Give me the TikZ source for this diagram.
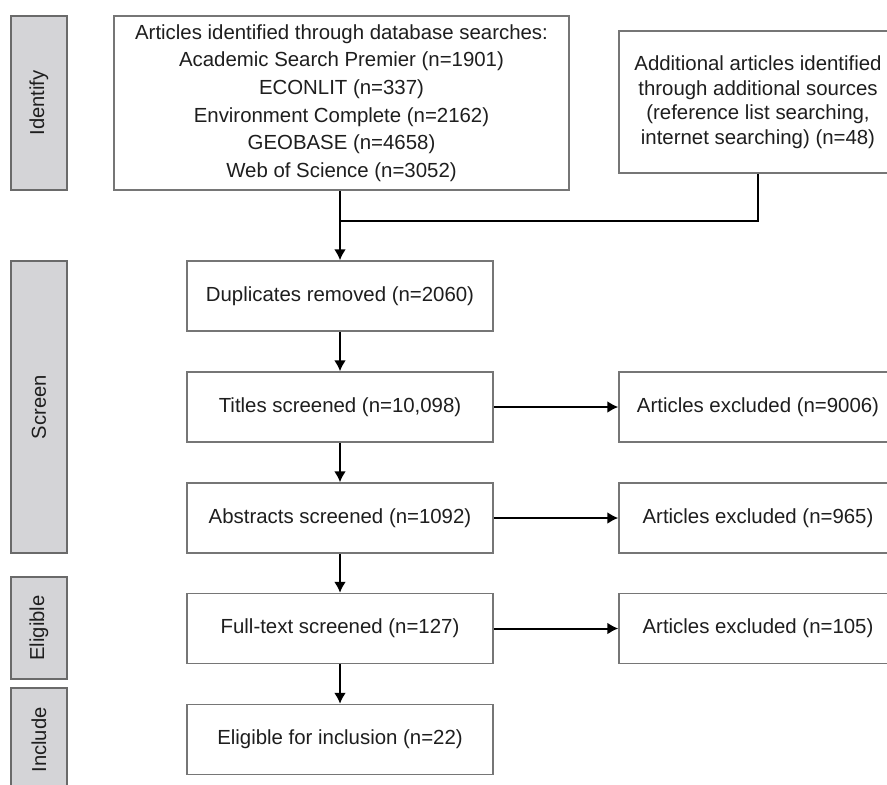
\documentclass[tikz,border=0pt]{standalone}
\usepackage{fontspec}
\setmainfont{Liberation Sans}
\usetikzlibrary{arrows.meta,positioning,calc}
\definecolor{phasefill}{HTML}{D4D4D7}
\definecolor{phaseline}{HTML}{6A6A6A}
\definecolor{boxline}{HTML}{767676}
\definecolor{inktext}{HTML}{1E1E1E}

\begin{document}
\begin{tikzpicture}[
  x=1pt, y=-1pt,
  >={Latex[length=11pt,width=12pt]},
  box/.style={draw=boxline, line width=1.5pt, fill=white, align=center, inner sep=2pt, text=inktext,
    font=\fontsize{20.4}{24.5}\selectfont},
  mid/.style={box, minimum width=306pt, minimum height=70pt},
  side/.style={box, minimum width=278pt, minimum height=70pt},
  phase/.style={draw=phaseline, line width=1.5pt, fill=phasefill, inner sep=0pt, text=inktext,
    rotate=90, font=\fontsize{20.2}{24}\selectfont},
  line/.style={line width=2pt, draw=black},
  arr/.style={->, line width=2pt, draw=black}
]
\useasboundingbox (0,0) rectangle (887,785);
\clip (0,0) rectangle (887,785);

% phase bars on the left
\node[phase, minimum width=174pt, minimum height=56pt] (ident) at (39,103) {Identify};
\node[phase, minimum width=292pt, minimum height=56pt] (screen) at (39,407) {Screen};
\node[phase, minimum width=102pt, minimum height=56pt] (elig) at (39,628) {Eligible};
\node[phase, minimum width=104pt, minimum height=56pt] (incl) at (39,740) {Include};

% identification
\node[box, minimum width=455pt, minimum height=174pt, font=\fontsize{20.4}{27.6}\selectfont] (db) at (341.5,103) {Articles identified through database searches:\\Academic Search Premier (n=1901)\\ECONLIT (n=337)\\Environment Complete (n=2162)\\GEOBASE (n=4658)\\Web of Science (n=3052)};
\node[box, minimum width=278pt, minimum height=142pt] (extra) at (758,102) {Additional articles identified\\through additional sources\\(reference list searching,\\internet searching) (n=48)};

% main column
\node[mid] (dup) at (340,296) {Duplicates removed (n=2060)};
\node[mid] (titles) at (340,407) {Titles screened (n=10,098)};
\node[mid] (abstr) at (340,518) {Abstracts screened (n=1092)};
\node[mid] (full) at (340,628.5) {Full-text screened (n=127)};
\node[mid] (incbox) at (340,739.5) {Eligible for inclusion (n=22)};

% exclusions
\node[side] (exc1) at (758,407) {Articles excluded (n=9006)};
\node[side] (exc2) at (758,518) {Articles excluded (n=965)};
\node[side] (exc3) at (758,628.5) {Articles excluded (n=105)};

\coordinate (join) at (340,221);
\draw[line] (db.south -| join) -- (join);
\draw[line] (extra.south) |- (join);
\draw[arr] (join) -- (dup.north);

\draw[arr] (dup.south) -- (titles.north);
\draw[arr] (titles.south) -- (abstr.north);
\draw[arr] (abstr.south) -- (full.north);
\draw[arr] (full.south) -- (incbox.north);

\draw[arr] (titles.east) -- (exc1.west);
\draw[arr] (abstr.east) -- (exc2.west);
\draw[arr] (full.east) -- (exc3.west);
\end{tikzpicture}
\end{document}
